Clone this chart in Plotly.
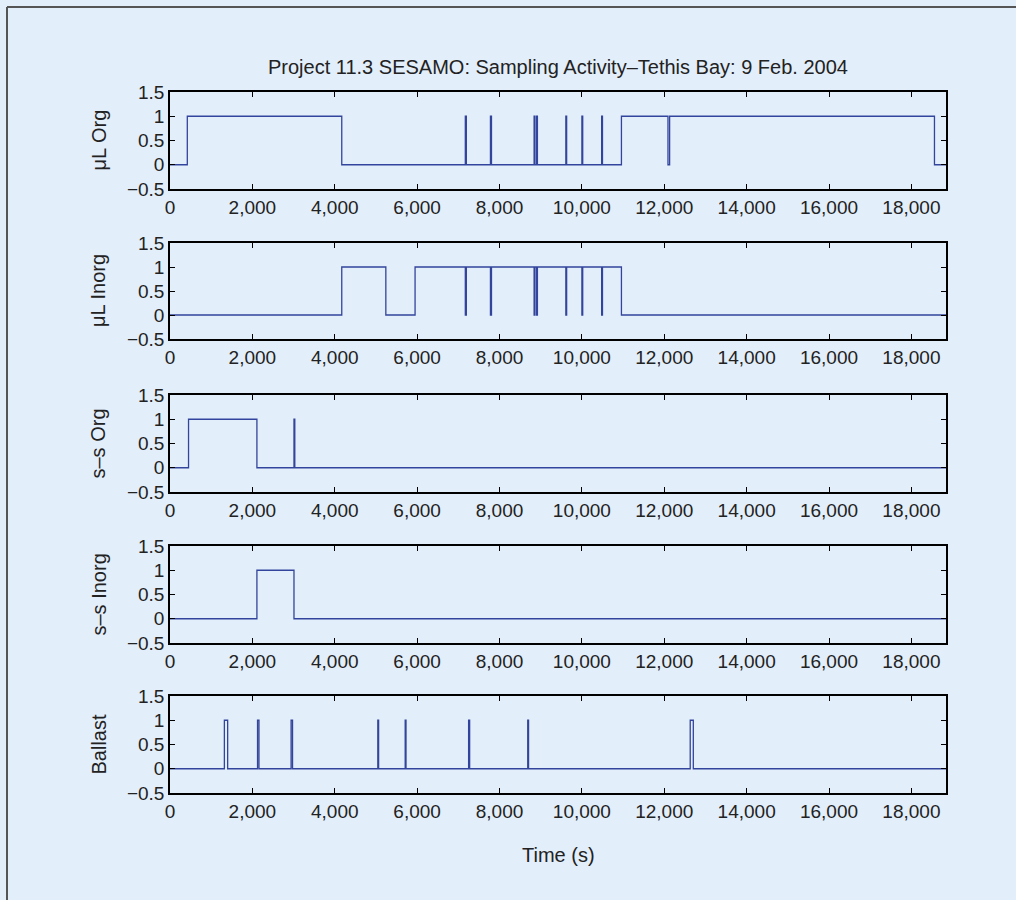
import plotly.graph_objects as go

# ---- data (transition times in s, and the state after each transition) ----
ul_org_t = [0, 420, 4170, 7170, 7195, 7780, 7805, 8840, 8860, 8900, 8920, 9610, 9630,
            10000, 10020, 10480, 10500, 10960, 12090, 12130, 18560, 18840]
ul_org_v = [0, 1, 0, 1, 0, 1, 0, 1, 0, 1, 0, 1, 0,
            1, 0, 1, 0, 1, 0, 1, 0, 0]

ul_inorg_t = [0, 4170, 5240, 5950, 7170, 7195, 7780, 7805, 8840, 8860, 8900, 8920,
              9610, 9630, 10000, 10020, 10480, 10500, 10960, 18840]
ul_inorg_v = [0, 1, 0, 1, 0, 1, 0, 1, 0, 1, 0, 1,
              0, 1, 0, 1, 0, 1, 0, 0]

ss_org_t = [0, 450, 2110, 3010, 3030, 18840]
ss_org_v = [0, 1, 0, 1, 0, 0]

ss_inorg_t = [0, 2110, 3010, 18840]
ss_inorg_v = [0, 1, 0, 0]

ballast_t = [0, 1320, 1400, 2125, 2160, 2940, 2975, 5045, 5065, 5710, 5730,
             7250, 7275, 8685, 8705, 12630, 12705, 18840]
ballast_v = [0, 1, 0, 1, 0, 1, 0, 1, 0, 1, 0,
             1, 0, 1, 0, 1, 0, 0]

series = [
    ("μL Org", ul_org_t, ul_org_v),
    ("μL Inorg", ul_inorg_t, ul_inorg_v),
    ("s–s Org", ss_org_t, ss_org_v),
    ("s–s Inorg", ss_inorg_t, ss_inorg_v),
    ("Ballast", ballast_t, ballast_v),
]

x_ticks = list(range(0, 18001, 2000))
y_ticks = [-0.5, 0, 0.5, 1, 1.5]
title_text = "Project 11.3 SESAMO: Sampling Activity–Tethis Bay: 9 Feb. 2004"
x_title = "Time (s)"

# ---- layout geometry (pixels) ----
W, H = 1016, 900
L, R, T, B = 170, 946, 92, 793
tops = [92, 243, 395, 546, 696]
bots = [189, 339, 492, 643, 793]
ph = B - T
pw = R - L

def fy(y):
    return (B - y) / ph

def fx(x):
    return (x - L) / pw

BG = "#E2EEFA"
LINE = "#33449C"
FONT = "Liberation Sans"
TXT = "#222222"
TICK_SIZE = 19
LABEL_SIZE = 20

fig = go.Figure()
layout = dict(
    width=W, height=H,
    margin=dict(l=L, r=W - R, t=T, b=H - B),
    paper_bgcolor=BG, plot_bgcolor=BG,
    showlegend=False,
    font=dict(family=FONT, size=TICK_SIZE, color=TXT),
)

annotations = []
for i, (name, t, v) in enumerate(series):
    n = i + 1
    xa = "x" if n == 1 else f"x{n}"
    ya = "y" if n == 1 else f"y{n}"
    fig.add_trace(go.Scatter(x=t, y=v, mode="lines", line=dict(color=LINE, width=1.3, shape="hv"),
                             xaxis=xa, yaxis=ya, hoverinfo="skip"))
    common = dict(showline=True, mirror="ticks", linecolor="black", linewidth=1.5,
                  ticks="inside", ticklen=5, tickwidth=1, tickcolor="black",
                  showgrid=False, zeroline=False)
    layout["xaxis" if n == 1 else f"xaxis{n}"] = dict(
        domain=[0, 1], anchor=ya, range=[0, 18840], tickvals=x_ticks,
        tickformat=",d", tickfont=dict(family=FONT, size=TICK_SIZE, color=TXT), **common)
    layout["yaxis" if n == 1 else f"yaxis{n}"] = dict(
        domain=[fy(bots[i]), fy(tops[i])], anchor=xa, range=[-0.5, 1.5],
        tickvals=y_ticks, tickfont=dict(family=FONT, size=TICK_SIZE, color=TXT), **common)
    annotations.append(dict(
        text=name, xref="paper", yref="paper", x=fx(98), y=fy((tops[i] + bots[i]) / 2),
        textangle=-90, showarrow=False, xanchor="center", yanchor="middle",
        font=dict(family=FONT, size=LABEL_SIZE, color=TXT)))

annotations.append(dict(text=title_text, xref="paper", yref="paper", x=fx(558), y=fy(67),
                        showarrow=False, xanchor="center", yanchor="middle",
                        font=dict(family=FONT, size=LABEL_SIZE, color=TXT)))
annotations.append(dict(text=x_title, xref="paper", yref="paper", x=fx(558), y=fy(855),
                        showarrow=False, xanchor="center", yanchor="middle",
                        font=dict(family=FONT, size=LABEL_SIZE, color=TXT)))
layout["annotations"] = annotations

layout["shapes"] = [
    dict(type="line", xref="paper", yref="paper", x0=fx(7), x1=fx(7), y0=fy(7), y1=fy(905),
         line=dict(color="#555555", width=2)),
    dict(type="line", xref="paper", yref="paper", x0=fx(7), x1=fx(1020), y0=fy(7), y1=fy(7),
         line=dict(color="#555555", width=2)),
]

fig.update_layout(**layout)
fig.write_html("out.html")
